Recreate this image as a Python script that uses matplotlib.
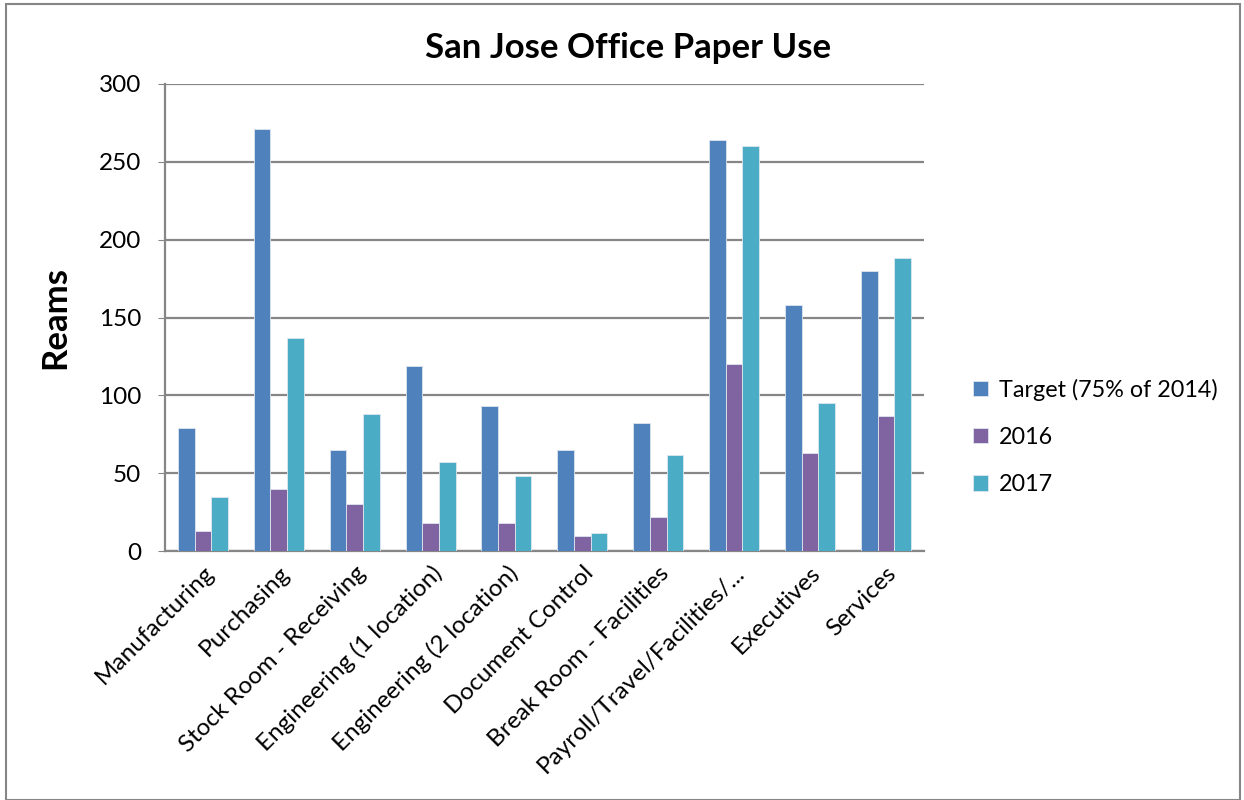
import matplotlib
matplotlib.use('Agg')
import matplotlib.pyplot as plt
import numpy as np
from matplotlib.patches import Rectangle

plt.rcParams['font.family'] = ['Lato', 'DejaVu Sans']

categories = ['Manufacturing', 'Purchasing', 'Stock Room - Receiving',
              'Engineering (1 location)', 'Engineering (2 location)',
              'Document Control', 'Break Room - Facilities',
              'Payroll/Travel/Facilities/...', 'Executives', 'Services']
target = [79, 271, 65, 119, 93, 65, 82, 264, 158, 180]
y2016 = [13, 40, 30, 18, 18, 10, 22, 120, 63, 87]
y2017 = [35, 137, 88, 57, 48, 12, 62, 260, 95, 188]
series_names = ['Target (75% of 2014)', '2016', '2017']
colors = ['#4F81BD', '#8064A2', '#4BACC6']

fig = plt.figure(figsize=(12.44, 8), dpi=100)
ax = fig.add_axes([0.1326, 0.311, 0.610, 0.584])

x = np.arange(len(categories))
w = 0.22
for i, (vals, name, c) in enumerate(zip([target, y2016, y2017], series_names, colors)):
    ax.bar(x + (i - 1) * w, vals, width=w, color=c, label=name,
           edgecolor='#dfe6f0', linewidth=0.6, zorder=3)

ax.set_xlim(-0.5, len(categories) - 0.5)
ax.set_ylim(0, 300)
ax.set_yticks(range(0, 301, 50))
ax.yaxis.grid(True, color='#868686', linewidth=1.6, zorder=0)
for s in ['top', 'right']:
    ax.spines[s].set_visible(False)
for s in ['left', 'bottom']:
    ax.spines[s].set_color('#868686')
    ax.spines[s].set_linewidth(1.6)

ax.set_xticks(x)
ax.set_xticklabels(categories, rotation=45, ha='right', rotation_mode='anchor',
                   fontsize=17.5)
ax.tick_params(axis='x', length=0, pad=8)
ax.tick_params(axis='y', length=5, color='#868686', labelsize=17.5, pad=12)

ax.set_ylabel('Reams', fontsize=25, fontweight='bold', labelpad=20)
fig.text(0.505, 0.94, 'San Jose Office Paper Use', ha='center', va='center',
         fontsize=25, fontweight='bold')

leg = ax.legend(loc='center left', bbox_to_anchor=(0.771, 0.454),
                bbox_transform=fig.transFigure, frameon=False,
                fontsize=16.8, handlelength=0.65, handleheight=0.65,
                handletextpad=0.45, labelspacing=1.12, borderaxespad=0.2)

fig.patches.append(Rectangle((0.005, 0.0), 0.992, 0.995, transform=fig.transFigure,
                             fill=False, edgecolor='#868686', linewidth=1.5))

fig.savefig('out.png', dpi=100)
